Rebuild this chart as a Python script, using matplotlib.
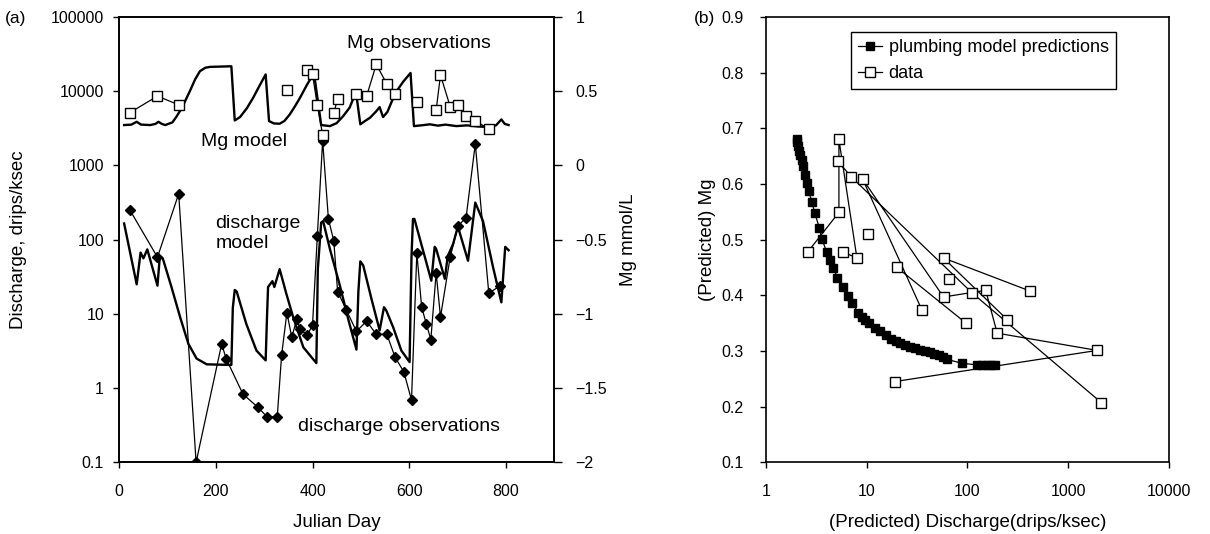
import numpy as np
import matplotlib
matplotlib.use("Agg")
import matplotlib.pyplot as plt
from matplotlib.ticker import FixedLocator, FixedFormatter

plt.rcParams['font.family'] = ['Liberation Sans', 'DejaVu Sans']
plt.rcParams['font.size'] = 11

nan = np.nan

# ---- panel (a): observations (sampling days) ----
obs_day = [22, 79, 123, 159, 212, 221, 256, 287, 306, 327, 336, 347, 357, 368, 374,
           389, 400, 410, 421, 433, 444, 452, 470, 491, 512, 532, 554, 571, 589, 605,
           616, 626, 636, 645, 656, 665, 685, 701, 718, 737, 765, 789]
obs_discharge = [250, 58, 415, 0.1, 3.95, 2.5, 0.83, 0.55, 0.41, 0.41, 2.76, 10.4, 4.85, 8.6, 6.2,
                 5.2, 7.0, 112, 2150, 188, 97, 20, 11.3, 5.8, 8.0, 5.3, 5.3, 2.6, 1.66, 0.69,
                 66, 12.3, 7.2, 4.5, 35.5, 9.1, 58, 152, 198, 1950, 19, 24]
obs_mg = [0.356, 0.467, 0.408, nan, nan, nan, nan, nan, nan, nan, nan, 0.51, nan, nan, nan,
          0.641, 0.613, 0.404, 0.207, nan, 0.35, 0.45, nan, 0.478, 0.467, 0.68, 0.549, 0.478, nan, nan,
          0.43, nan, nan, nan, 0.373, 0.609, 0.397, 0.409, 0.332, 0.301, 0.245, nan]

# ---- panel (a): discharge model ----
qmod_day = [10, 36, 44, 50, 58, 79, 84, 90, 108, 126, 143, 160, 181, 232, 235, 239, 243, 263, 284, 303,
            306, 308, 317, 321, 332, 346, 360, 381, 408, 411, 418, 422, 436, 456, 475, 491, 495, 499, 505,
            522, 539, 548, 553, 567, 584, 601, 605, 608, 611, 628, 646, 653, 656, 674, 680, 691, 701,
            722, 737, 753, 774, 791, 799, 806]
qmod_val = [165, 25, 67, 56, 74, 24, 60, 56, 23, 9, 3.95, 2.5, 2.09, 2.05, 12, 21, 20, 7.3, 3.2, 2.36,
            10, 23, 27.6, 23, 40, 18.5, 9, 3.55, 2.17, 40, 170, 178, 75, 25, 8, 3.3, 20, 51, 45,
            16, 6, 12.3, 11, 6.6, 3.2, 2.24, 60, 190, 190, 75, 28, 80, 75, 29.7, 60, 87, 150,
            52, 316, 178, 42, 14.3, 80, 72]

# ---- panel (a): Mg model ----
mgmod_day = [10, 25, 36, 45, 64, 75, 81, 88, 95, 110, 119, 130, 146, 157, 167, 178, 188, 232,
             239, 250, 264, 277, 290, 303, 310, 320, 332, 342, 353, 364, 374, 388, 403, 418,
             436, 450, 463, 477, 490, 499, 509, 519, 532, 539, 546, 555, 564, 574, 588, 603, 610,
             625, 643, 660, 675, 698, 720, 745, 763, 780, 791, 798, 806]
mgmod_val = [0.272, 0.275, 0.294, 0.275, 0.272, 0.28, 0.294, 0.28, 0.272, 0.29, 0.332, 0.39, 0.50,
             0.58, 0.635, 0.658, 0.664, 0.668,
             0.303, 0.326, 0.385, 0.455, 0.535, 0.613, 0.299, 0.283, 0.281, 0.30, 0.344, 0.40, 0.455,
             0.54, 0.623, 0.272,
             0.265, 0.285, 0.33, 0.39, 0.496, 0.277, 0.30, 0.321, 0.365, 0.393, 0.326, 0.36, 0.43,
             0.50, 0.565, 0.623, 0.265,
             0.27, 0.277, 0.268, 0.275, 0.265, 0.27, 0.262, 0.259, 0.27, 0.31, 0.28, 0.272]

# ---- panel (b): plumbing model predictions ----
plumb_q = [2.02, 2.05, 2.1, 2.15, 2.2, 2.27, 2.35, 2.45, 2.54, 2.65, 2.85, 3.05, 3.39, 3.58, 4.0,
           4.33, 4.67, 5.1, 5.86, 6.57, 7.2, 8.27, 9.0, 9.63, 10.5, 12.1, 13.5, 15.6, 17.5, 19.5,
           21.5, 24, 27, 30.3, 34, 38, 42.5, 47, 52, 57, 62.6, 88, 125, 139, 155, 170, 189]
plumb_mg = [0.680, 0.676, 0.668, 0.660, 0.652, 0.643, 0.632, 0.617, 0.601, 0.588, 0.568, 0.548,
            0.521, 0.502, 0.478, 0.463, 0.449, 0.432, 0.415, 0.398, 0.386, 0.368, 0.361, 0.356,
            0.350, 0.341, 0.335, 0.329, 0.322, 0.318, 0.314, 0.310, 0.307, 0.305, 0.302, 0.300,
            0.298, 0.295, 0.292, 0.289, 0.285, 0.278, 0.275, 0.275, 0.274, 0.274, 0.274]

# tick labels
q_ticks = [0.1, 1, 10, 100, 1000, 10000, 100000]
q_ticklabels = ['0.1', '1', '10', '100', '1000', '10000', '100000']
mg_ticks = [-2, -1.5, -1, -0.5, 0, 0.5, 1]
mg_ticklabels = ['\u22122', '\u22121.5', '\u22121', '\u22120.5', '0', '0.5', '1']
day_ticks = [0, 200, 400, 600, 800]
b_xticks = [1, 10, 100, 1000, 10000]
b_xticklabels = ['1', '10', '100', '1000', '10000']
b_yticks = [0.1, 0.2, 0.3, 0.4, 0.5, 0.6, 0.7, 0.8, 0.9]
b_yticklabels = ['0.1', '0.2', '0.3', '0.4', '0.5', '0.6', '0.7', '0.8', '0.9']

W, H = 1210, 534
fig = plt.figure(figsize=(W / 100, H / 100), dpi=100)

def frac(x0, y0, x1, y1):
    return [x0 / W, 1 - y1 / H, (x1 - x0) / W, (y1 - y0) / H]

axA = fig.add_axes(frac(119.3, 17, 554, 462.3))
axB = fig.add_axes(frac(766, 17, 1168.7, 462.3))

spine_lw = 1.2
for ax in (axA, axB):
    for s in ax.spines.values():
        s.set_linewidth(spine_lw)
    ax.tick_params(direction='out', length=4.5, width=1.0, colors='black', labelsize=11.5)
    ax.minorticks_off()

LABEL_FS = 13.5
ANN_FS = 14

# ---------- panel (a) ----------
axA.set_yscale('log')
axA.set_xlim(0, 900)
axA.set_ylim(0.1, 100000)
axA.plot(qmod_day, qmod_val, color='black', lw=1.7, zorder=3)
axA.plot(obs_day, obs_discharge, color='black', lw=0.9, marker='D', ms=5.5,
         mfc='black', mec='black', zorder=4)
axA.yaxis.set_major_locator(FixedLocator(q_ticks))
axA.yaxis.set_major_formatter(FixedFormatter(q_ticklabels))
axA.yaxis.set_minor_locator(FixedLocator([]))
axA.xaxis.set_major_locator(FixedLocator(day_ticks))
axA.tick_params(axis='y', pad=6.5)
axA.tick_params(axis='x', pad=11)
axA.set_xlabel('Julian Day', fontsize=LABEL_FS)
axA.xaxis.set_label_coords(0.5, -0.116)
axA.set_ylabel('Discharge, drips/ksec', fontsize=LABEL_FS)
axA.yaxis.set_label_coords(-0.213, 0.5)

axA2 = axA.twinx()
axA2.set_ylim(-2, 1)
axA2.plot(mgmod_day, mgmod_val, color='black', lw=1.7, zorder=3)
axA2.plot(obs_day, obs_mg, color='black', lw=0.9, marker='s', ms=6.5,
          mfc='white', mec='black', mew=1.0, zorder=4)
axA2.yaxis.set_major_locator(FixedLocator(mg_ticks))
axA2.yaxis.set_major_formatter(FixedFormatter(mg_ticklabels))
axA2.tick_params(axis='y', direction='out', length=5.5, width=1.0, labelsize=11.5, pad=10)
for s in axA2.spines.values():
    s.set_linewidth(spine_lw)
axA2.set_ylabel('Mg mmol/L', fontsize=LABEL_FS)
axA2.yaxis.set_label_coords(1.152, 0.5)

axA.text(471, 44300, 'Mg observations', fontsize=ANN_FS, va='center', ha='left')
axA.text(170, 2120, 'Mg model', fontsize=ANN_FS, va='center', ha='left')
axA.text(199, 120, 'discharge\nmodel', fontsize=ANN_FS, va='center', ha='left', linespacing=1.25)
axA.text(371, 0.30, 'discharge observations', fontsize=ANN_FS, va='center', ha='left')

# ---------- panel (b) ----------
axB.set_xscale('log')
axB.set_xlim(1, 10000)
axB.set_ylim(0.1, 0.9)
axB.plot(plumb_q, plumb_mg, color='black', lw=0.9, marker='s', ms=5.5,
         mfc='black', mec='black', label='plumbing model predictions', zorder=3)
axB.plot(obs_discharge, obs_mg, color='black', lw=0.9, marker='s', ms=6.5,
         mfc='white', mec='black', mew=1.0, label='data', zorder=4)
axB.xaxis.set_major_locator(FixedLocator(b_xticks))
axB.xaxis.set_major_formatter(FixedFormatter(b_xticklabels))
axB.xaxis.set_minor_locator(FixedLocator([]))
axB.yaxis.set_major_locator(FixedLocator(b_yticks))
axB.yaxis.set_major_formatter(FixedFormatter(b_yticklabels))
axB.tick_params(axis='both', labelsize=11.5)
axB.tick_params(axis='y', pad=11.5)
axB.tick_params(axis='x', pad=11)
axB.set_xlabel('(Predicted) Discharge(drips/ksec)', fontsize=LABEL_FS)
axB.xaxis.set_label_coords(0.5, -0.116)
axB.set_ylabel('(Predicted) Mg', fontsize=LABEL_FS)
axB.yaxis.set_label_coords(-0.125, 0.5)

leg = axB.legend(loc='upper left', bbox_to_anchor=((850.7 - 766) / 402.7, 1 - (31.7 - 17) / 445.3),
                 frameon=True, fancybox=False, edgecolor='black', fontsize=13,
                 handlelength=1.35, handletextpad=0.35, borderpad=0.4, labelspacing=0.5,
                 borderaxespad=0)
leg.get_frame().set_linewidth(1.0)
leg.get_frame().set_alpha(1)

fig.text(5 / W, 1 - 18 / H, '(a)', fontsize=12.5, va='center', ha='left')
fig.text(715 / W, 1 - 18 / H, '(b)', fontsize=12.5, va='center', ha='right')

fig.savefig('out.png', dpi=100)
